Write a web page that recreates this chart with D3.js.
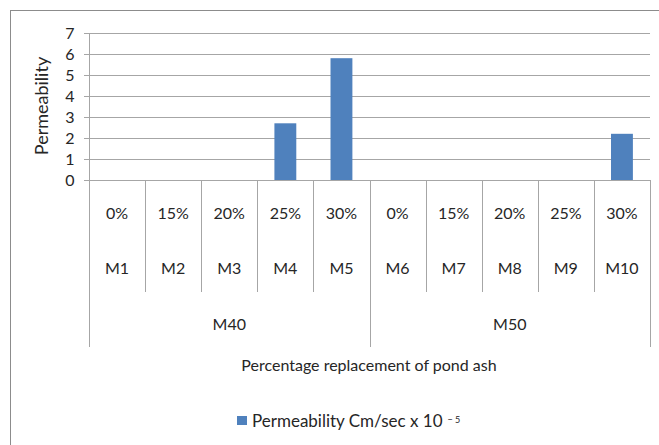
<!DOCTYPE html>
<html>
<head>
<meta charset="utf-8">
<script src="https://cdn.jsdelivr.net/npm/d3@7"></script>
<style>
  html, body { margin: 0; padding: 0; background: #fff; }
  svg text { font-family: Lato, "Open Sans", sans-serif; fill: #262626; }
</style>
</head>
<body>
<svg id="chart" width="659" height="445"></svg>
<script>
// Mix identifiers, replacement levels and grade groups
const mixes = ["M1", "M2", "M3", "M4", "M5", "M6", "M7", "M8", "M9", "M10"];
const replacement = ["0%", "15%", "20%", "25%", "30%", "0%", "15%", "20%", "25%", "30%"];
const grades = ["M40", "M50"];
// Permeability (cm/sec x 10^-5); mixes without a test result are left at zero
const permeability = [0, 0, 0, 2.7, 5.8, 0, 0, 0, 0, 2.2];
const yTicks = [0, 1, 2, 3, 4, 5, 6, 7];

const svg = d3.select("#chart");
const plotLeft = 89, plotRight = 650, plotTop = 33, zeroY = 180;

// outer chart frame
svg.append("rect")
  .attr("x", 10.5).attr("y", 10.5)
  .attr("width", 660).attr("height", 450)
  .attr("fill", "none").attr("stroke", "#8c8c8c").attr("stroke-width", 1);

const x = d3.scaleBand().domain(mixes).range([plotLeft, plotRight]).padding(0);
const y = d3.scaleLinear().domain([0, 7]).range([zeroY, plotTop]);

// horizontal gridlines with short ticks to the left of the axis
const grid = svg.append("g");
grid.selectAll("line").data(yTicks).join("line")
  .attr("x1", plotLeft - 5).attr("x2", plotRight)
  .attr("y1", d => Math.round(y(d)) + 0.5).attr("y2", d => Math.round(y(d)) + 0.5)
  .attr("stroke", "#a6a6a6").attr("stroke-width", 1);

// y axis labels
svg.append("g").selectAll("text").data(yTicks).join("text")
  .attr("x", 70).attr("y", d => y(d))
  .attr("dy", "0.36em").attr("text-anchor", "middle")
  .attr("font-size", 16)
  .text(d => d);

// vertical axis line
svg.append("line")
  .attr("x1", plotLeft + 0.5).attr("x2", plotLeft + 0.5)
  .attr("y1", plotTop).attr("y2", zeroY)
  .attr("stroke", "#a6a6a6");

svg.append("text")
  .attr("transform", `translate(48,${(55 + 157) / 2}) rotate(-90)`)
  .attr("text-anchor", "middle")
  .attr("font-size", 18)
  .text("Permeability");

// bars
const barW = x.bandwidth() * 0.39;
svg.append("g").selectAll("rect").data(mixes).join("rect")
  .attr("x", (d) => x(d) + (x.bandwidth() - barW) / 2)
  .attr("width", barW)
  .attr("y", (d, i) => y(permeability[i]))
  .attr("height", (d, i) => y(0) - y(permeability[i]))
  .attr("fill", "#4f81bd");

// multi-level category axis: dividers
const div = svg.append("g").attr("stroke", "#a6a6a6").attr("stroke-width", 1);
const groupSize = mixes.length / grades.length;
d3.range(mixes.length + 1).forEach(i => {
  const xp = Math.round(i === mixes.length ? plotRight : x(mixes[i])) + 0.5;
  const isGroupEdge = i % groupSize === 0;
  div.append("line")
    .attr("x1", xp).attr("x2", xp)
    .attr("y1", zeroY).attr("y2", isGroupEdge ? 347 : 292);
});

// category labels: replacement level and mix id
svg.append("g").selectAll("text").data(replacement).join("text")
  .attr("x", (d, i) => x(mixes[i]) + x.bandwidth() / 2)
  .attr("y", 213).attr("dy", "0.36em").attr("text-anchor", "middle")
  .attr("font-size", 16)
  .text(d => d);

svg.append("g").selectAll("text").data(mixes).join("text")
  .attr("x", d => x(d) + x.bandwidth() / 2)
  .attr("y", 268).attr("dy", "0.36em").attr("text-anchor", "middle")
  .attr("font-size", 16)
  .text(d => d);

// grade group labels
svg.append("g").selectAll("text").data(grades).join("text")
  .attr("x", (d, i) => (x(mixes[i * groupSize]) + (i === grades.length - 1 ? plotRight : x(mixes[(i + 1) * groupSize]))) / 2)
  .attr("y", 324).attr("dy", "0.36em").attr("text-anchor", "middle")
  .attr("font-size", 16)
  .text(d => d);

// axis title
svg.append("text")
  .attr("x", 369).attr("y", 365).attr("dy", "0.36em")
  .attr("text-anchor", "middle").attr("font-size", 16)
  .text("Percentage replacement of pond ash");

// legend
svg.append("rect")
  .attr("x", 237).attr("y", 416).attr("width", 10).attr("height", 9)
  .attr("fill", "#4f81bd");
const leg = svg.append("text")
  .attr("x", 252).attr("y", 421).attr("dy", "0.36em")
  .attr("font-size", 17);
leg.append("tspan").text("Permeability Cm/sec x 10");
leg.append("tspan").attr("dx", 5).attr("dy", "-0.5em").attr("font-size", 9).text("\u2212  5");
</script>
</body>
</html>
